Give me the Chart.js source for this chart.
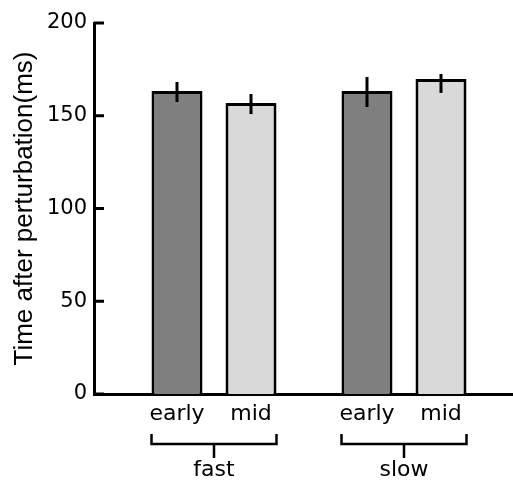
<!DOCTYPE html>
<html>
<head>
<meta charset="utf-8">
<script src="https://cdn.jsdelivr.net/npm/chart.js@4.4.0/dist/chart.umd.min.js"></script>
<style>
  html, body { margin: 0; padding: 0; background: #fff; }
</style>
</head>
<body>
<canvas id="chart" width="513" height="482"></canvas>
<script>
// groups on the x axis, one bar per phase in each group
const groups = ['fast', 'slow'];
const phases = ['early', 'mid'];
const earlyValues = [163.3, 163.3];
const midValues = [156.9, 169.8];
// error bar ends
const earlyLow = [157.4, 154.7];
const earlyHigh = [168.2, 170.9];
const midLow = [150.9, 162.3];
const midHigh = [161.7, 172.5];
const yTicks = [0, 50, 100, 150, 200];

Chart.defaults.font.family = '"DejaVu Sans", sans-serif';
Chart.defaults.color = '#000';

const errorBars = {
    id: 'errorBars',
    afterDatasetsDraw(chart) {
        const ctx = chart.ctx;
        const yScale = chart.scales.y;
        ctx.save();
        ctx.strokeStyle = '#000';
        ctx.lineWidth = 3;
        [[earlyLow, earlyHigh], [midLow, midHigh]].forEach(function(pair, d) {
            chart.getDatasetMeta(d).data.forEach(function(bar, i) {
                ctx.beginPath();
                ctx.moveTo(bar.x, yScale.getPixelForValue(pair[0][i]));
                ctx.lineTo(bar.x, yScale.getPixelForValue(pair[1][i]));
                ctx.stroke();
            });
        });
        ctx.restore();
    }
};

// inward y ticks, phase labels, brackets and group names
const axisDecor = {
    id: 'axisDecor',
    afterDraw(chart) {
        const ctx = chart.ctx;
        const area = chart.chartArea;
        const yScale = chart.scales.y;
        ctx.save();
        ctx.strokeStyle = '#000';
        ctx.lineWidth = 3;
        yTicks.forEach(function(v) {
            const py = yScale.getPixelForValue(v);
            ctx.beginPath();
            ctx.moveTo(area.left, py);
            ctx.lineTo(area.left + 10, py);
            ctx.stroke();
        });

        ctx.fillStyle = '#000';
        ctx.textAlign = 'center';
        ctx.textBaseline = 'alphabetic';
        ctx.font = '22px "DejaVu Sans"';
        phases.forEach(function(p, d) {
            chart.getDatasetMeta(d).data.forEach(function(bar) {
                ctx.fillText(p, bar.x, area.bottom + 26);
            });
        });

        ctx.lineWidth = 2.5;
        groups.forEach(function(g, i) {
            const first = chart.getDatasetMeta(0).data[i];
            const last = chart.getDatasetMeta(phases.length - 1).data[i];
            const x0 = first.x - first.width / 2;
            const x1 = last.x + last.width / 2;
            const mid = (x0 + x1) / 2;
            const top = area.bottom + 40;
            const base = area.bottom + 50;
            ctx.beginPath();
            ctx.moveTo(x0, top);
            ctx.lineTo(x0, base);
            ctx.lineTo(x1, base);
            ctx.lineTo(x1, top);
            ctx.moveTo(mid, base);
            ctx.lineTo(mid, base + 14);
            ctx.stroke();
            ctx.fillText(g, mid, area.bottom + 82);
        });
        ctx.restore();
    }
};

new Chart(document.getElementById('chart'), {
    type: 'bar',
    data: {
        datasets: [{
            label: phases[0],
            data: earlyValues.map(function(v, i) { return {x: i, y: v}; }),
            backgroundColor: '#7f7f7f',
            borderColor: '#000',
            borderWidth: 3,
            categoryPercentage: 0.779,
            barPercentage: 0.689
        }, {
            label: phases[1],
            data: midValues.map(function(v, i) { return {x: i, y: v}; }),
            backgroundColor: '#d9d9d9',
            borderColor: '#000',
            borderWidth: 3,
            categoryPercentage: 0.779,
            barPercentage: 0.689
        }]
    },
    options: {
        responsive: false,
        animation: false,
        layout: { padding: { top: 23, right: 0, bottom: 88, left: 0 } },
        plugins: { legend: { display: false }, tooltip: { enabled: false } },
        scales: {
            x: {
                type: 'linear',
                bounds: 'data',
                offset: false,
                min: -0.6316,
                max: 1.5737,
                grid: { display: false, drawTicks: false, offset: false },
                ticks: { display: false },
                border: { display: true, width: 3, color: '#000' },
                afterBuildTicks: function(scale) {
                    scale.ticks = groups.map(function(g, i) { return {value: i}; });
                }
            },
            y: {
                min: 0,
                max: 200,
                grid: { display: false, drawTicks: false },
                border: { display: true, width: 3, color: '#000' },
                ticks: {
                    stepSize: 50,
                    padding: 7,
                    font: { size: 21 },
                    color: '#000'
                },
                title: {
                    display: true,
                    text: 'Time after perturbation(ms)',
                    font: { family: '"Liberation Sans", Arial, sans-serif', size: 26 },
                    color: '#000',
                    padding: { top: 9, bottom: 0 }
                },
                afterFit: function(scale) { scale.width = 94; }
            }
        }
    },
    plugins: [errorBars, axisDecor]
});
</script>
</body>
</html>
